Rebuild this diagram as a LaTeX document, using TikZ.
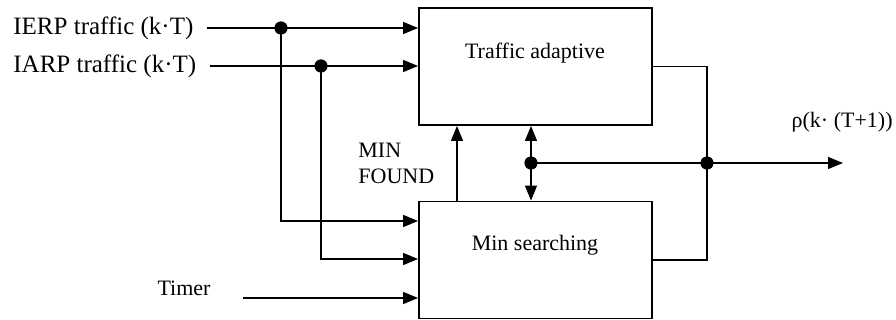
\documentclass[tikz,border=0pt]{standalone}
\usepackage{fontspec}
\setmainfont{Liberation Serif}
\usetikzlibrary{arrows.meta}

\begin{document}
\begin{tikzpicture}[x=0.5pt, y=-0.5pt, font=\fontsize{11}{13}\selectfont,
    sig/.style={line width=0.6pt, arrows={-Triangle[width=6pt, length=7.5pt]}},
    wire/.style={line width=0.6pt},
    block/.style={draw, line width=0.9pt, minimum width=116.5pt, minimum height=58.5pt, inner sep=0pt},
    inlbl/.style={anchor=west, inner sep=0pt, font=\fontsize{12.5}{15}\selectfont}]
    \useasboundingbox (0, 0) rectangle (896, 320);
    \node[block] (ta) at (535.5, 66.5) {};
    \node[block] (ms) at (535.5, 260) {};
    \node[align=center] (talbl) at (535, 53) {Traffic adaptive};
    \node[align=center] (mslbl) at (535, 245) {Min searching};
    \node[inlbl] (ierp) at (13, 28) {IERP traffic (k·T)};
    \node[inlbl] (iarp) at (13, 66) {IARP traffic (k·T)};
    \node[align=center] (timer) at (184, 288) {Timer};
    \node[align=left, anchor=west, inner sep=0pt] (minf) at (358, 163) {MIN\\FOUND};
    \node[anchor=east, inner sep=0pt] (rho) at (893, 122) {ρ(k· (T+1))};
    \coordinate (j1) at (281, 28);
    \coordinate (j1b) at (281, 221);
    \coordinate (j2) at (321, 66);
    \coordinate (j2b) at (321, 259);
    \coordinate (tstart) at (243, 298);
    \coordinate (minup) at (457, 0);
    \coordinate (j3) at (531, 163);
    \coordinate (j4) at (707, 163);
    \coordinate (out) at (843, 163);
    \draw[sig] ([xshift=6.5pt]ierp.east) -- (ierp.east -| ta.west);
    \draw[sig] ([xshift=6.5pt]iarp.east) -- (iarp.east -| ta.west);
    \draw[sig] (j1) -- (j1b) -- (j1b -| ms.west);
    \draw[sig] (j2) -- (j2b) -- (j2b -| ms.west);
    \draw[sig] (tstart) -- (tstart -| ms.west);
    \draw[sig] (minup |- ms.north) -- (minup |- ta.south);
    \draw[sig] (j3) -- (j3 |- ta.south);
    \draw[sig] (j3) -- (j3 |- ms.north);
    \draw[wire] (ta.east) -| (j4) |- (ms.east);
    \draw[sig] (j3) -- (j4) -- (out);
    \fill (j1) circle (3.3pt);
    \fill (j2) circle (3.3pt);
    \fill (j3) circle (3.3pt);
    \fill (j4) circle (3.3pt);
\end{tikzpicture}
\end{document}
